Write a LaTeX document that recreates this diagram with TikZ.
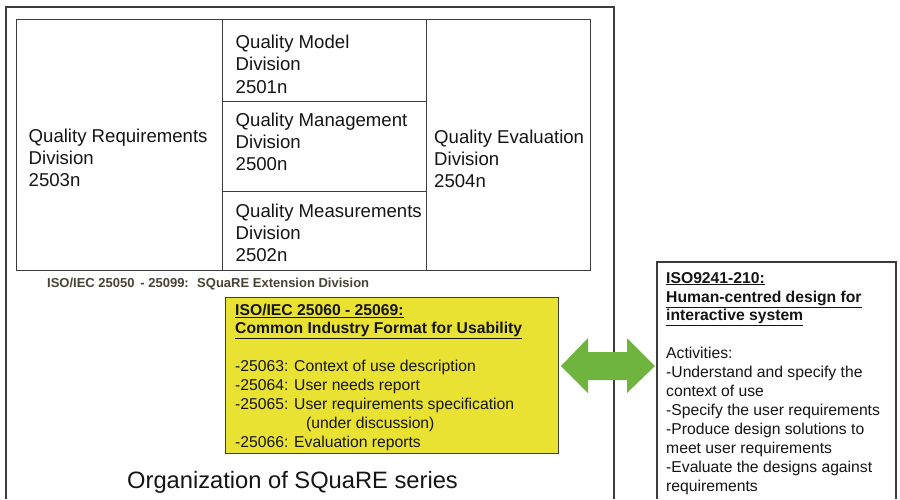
\documentclass[tikz,border=0pt]{standalone}
\usepackage{fontspec}
\setmainfont{Liberation Sans}
\definecolor{framegray}{HTML}{3C3C3C}
\definecolor{boxyellow}{HTML}{E9E233}
\definecolor{arrowgreen}{HTML}{6EB43F}
\definecolor{extbrown}{HTML}{4A4236}
\definecolor{txt}{HTML}{151515}
\begin{document}
\begin{tikzpicture}[x=1pt,y=-1pt,
  frame/.style={draw=framegray,line width=1.4pt},
  cell/.style={draw=framegray,line width=1.3pt,rectangle,inner sep=0,anchor=north west},
  divtext/.style={anchor=base west,inner sep=0,text=txt,font=\fontsize{18.6}{22}\selectfont},
  smalltext/.style={anchor=base west,inner sep=0,text=txt,font=\fontsize{15.7}{19}\selectfont},
  smallbold/.style={smalltext,font=\fontsize{15.7}{19}\selectfont\bfseries},
  exttext/.style={anchor=base west,inner sep=0,text=extbrown,font=\fontsize{13}{15}\selectfont\bfseries},
  titletext/.style={anchor=base west,inner sep=0,text=txt,font=\fontsize{23.7}{28}\selectfont}]
\useasboundingbox[fill=white] (0,0) rectangle (900,499);

% outer frame (open at the bottom)
\draw[frame] (6,499) -- (6,7) -- (614,7) -- (614,499);

% table of divisions
\node[cell,minimum width=206,minimum height=251] (req) at (16,19) {};
\node[cell,minimum width=204,minimum height=82] (model) at (222,19) {};
\node[cell,minimum width=204,minimum height=90] (mgmt) at (222,101) {};
\node[cell,minimum width=204,minimum height=79] (meas) at (222,191) {};
\node[cell,minimum width=164,minimum height=251] (eval) at (426,19) {};

\foreach \t [count=\i] in {Quality Requirements,Division,2503n}
  \node[divtext] (reqt\i) at (28.5,{142+22.3*(\i-1)}) {\t};
\foreach \t [count=\i] in {Quality Model,Division,2501n}
  \node[divtext] (modelt\i) at (235.5,{48.5+22.3*(\i-1)}) {\t};
\foreach \t [count=\i] in {Quality Management,Division,2500n}
  \node[divtext] (mgmtt\i) at (235.5,{126+22.3*(\i-1)}) {\t};
\foreach \t [count=\i] in {Quality Measurements,Division,2502n}
  \node[divtext] (meast\i) at (235.5,{217+22.3*(\i-1)}) {\t};
\foreach \t [count=\i] in {Quality Evaluation,Division,2504n}
  \node[divtext] (evalt\i) at (434,{143+22.3*(\i-1)}) {\t};

\node[exttext] (ext) at (47,287.5) {ISO/IEC 25050 \,- 25099: \ SQuaRE Extension Division};

% yellow box
\node[draw=framegray,line width=1pt,fill=boxyellow,rectangle,inner sep=0,anchor=north west,
      minimum width=333,minimum height=156] (cif) at (225,297) {};
\node[smallbold] (cift1) at (235,315) {\underline{ISO/IEC 25060 - 25069:}};
\node[smallbold] (cift2) at (235,333.5) {\underline{Common Industry Format for Usability}};
\foreach \t [count=\i] in {-25063: Context of use description,-25064: User needs report,-25065: User requirements specification}
  \node[smalltext] (cifl\i) at (235,{371+19*(\i-1)}) {\t};
\node[smalltext] (cifl4) at (306,428) {(under discussion)};
\node[smalltext] (cifl5) at (235,447) {-25066: Evaluation reports};

% title
\node[titletext] (title) at (127,488) {Organization of SQuaRE series};

% right box (open at the bottom)
\draw[frame,line width=1.2pt] (657,499) -- (657,262) -- (896,262) -- (896,499);
\node[smallbold] (hcdt1) at (666,283) {\underline{ISO9241-210:}};
\node[smallbold] (hcdt2) at (666,302) {\underline{Human-centred design for}};
\node[smallbold] (hcdt3) at (666,320.5) {\underline{interactive system}};
\foreach \t [count=\i] in {Activities:,-Understand and specify the,context of use,-Specify the user requirements,-Produce design solutions to,meet user requirements,-Evaluate the designs against,requirements}
  \node[smalltext] (hcdl\i) at (666,{358.5+19*(\i-1)}) {\t};

% green double arrow between the two boxes
\coordinate (aL) at (561,366);
\coordinate (aR) at (655,366);
\fill[arrowgreen] (aL) -- ++(27,-28) -- ++(0,14) -- ++(39,0) -- ++(0,-14) -- (aR)
  -- ++(-28,27) -- ++(0,-13) -- ++(-39,0) -- ++(0,13) -- cycle;
\end{tikzpicture}
\end{document}
